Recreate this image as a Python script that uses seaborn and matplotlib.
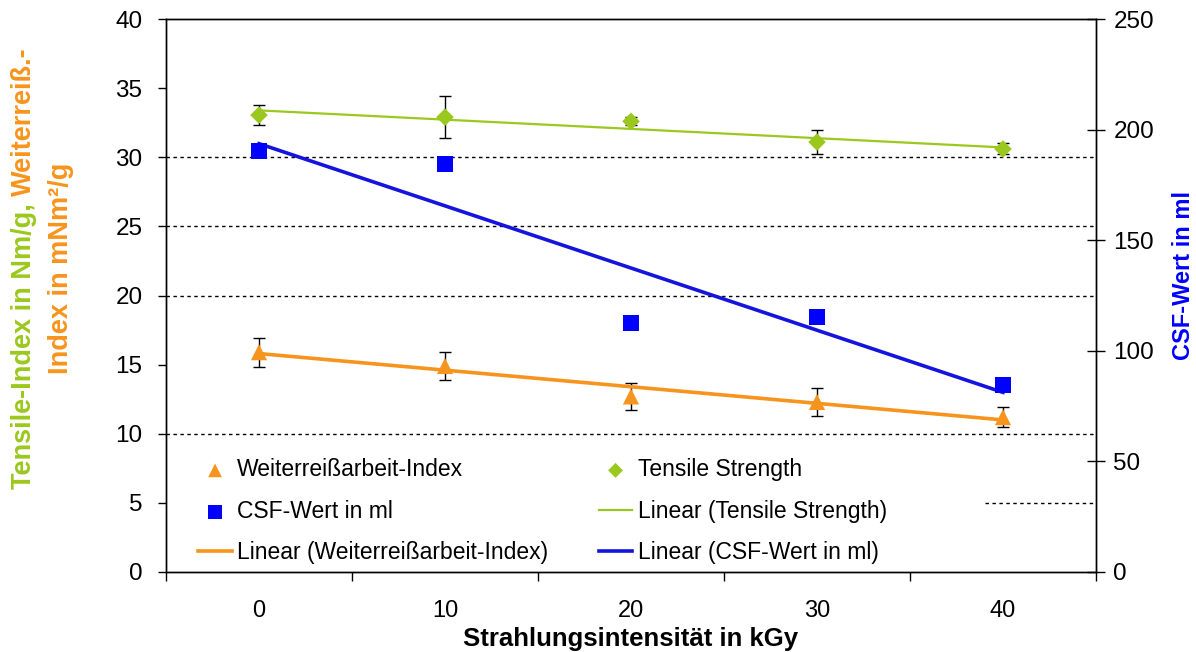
import matplotlib
matplotlib.use("Agg")
import matplotlib.pyplot as plt
import seaborn as sns
import numpy as np

# ---- data ----
dose = [0, 10, 20, 30, 40]
dose_labels = ["0", "10", "20", "30", "40"]
tensile = [33.05, 32.9, 32.6, 31.1, 30.6]
tensile_err = [0.75, 1.5, 0.3, 0.9, 0.4]
tear = [15.9, 14.9, 12.7, 12.3, 11.2]
tear_err = [1.05, 1.0, 1.0, 1.0, 0.7]
csf = [190.4, 184.6, 112.4, 115.1, 84.6]
left_ticks = [0, 5, 10, 15, 20, 25, 30, 35, 40]
right_ticks = [0, 50, 100, 150, 200, 250]
grid_levels = [10, 20, 25, 30]

GREEN = "#9BC81E"
ORANGE = "#F7941D"
BLUE = "#0000FF"
BLUE_LINE = "#1414DC"

plt.rcParams["font.family"] = ["Liberation Sans", "DejaVu Sans"]

W, H = 1196, 652
fig = plt.figure(figsize=(W / 100, H / 100), dpi=100)
ax = fig.add_axes([166 / W, 1 - 572 / H, (1096 - 166) / W, (572 - 19) / H])
ax2 = ax.twinx()

# grid lines
for g in grid_levels:
    ax.axhline(g, color="black", lw=1, ls=(0, (2.5, 2.5)), zorder=1)
ax.axhline(5, xmin=(985 - 166) / 930, xmax=1, color="black", lw=1, ls=(0, (2.5, 2.5)), zorder=1)

# error bars
ax.errorbar(dose, tensile, yerr=tensile_err, fmt="none", ecolor="black", elinewidth=1, capsize=4.5, capthick=1, zorder=2)
ax.errorbar(dose, tear, yerr=tear_err, fmt="none", ecolor="black", elinewidth=1, capsize=4.5, capthick=1, zorder=2)

# trend lines
sns.regplot(x=dose, y=tear, scatter=False, ci=None, ax=ax, label="Linear (Weiterreißarbeit-Index)",
            line_kws=dict(color=ORANGE, lw=2.6, zorder=3))
sns.regplot(x=dose, y=tensile, scatter=False, ci=None, ax=ax, label="Linear (Tensile Strength)",
            line_kws=dict(color=GREEN, lw=1.6, zorder=3))
sns.regplot(x=dose, y=csf, scatter=False, ci=None, ax=ax2, label="Linear (CSF-Wert in ml)",
            line_kws=dict(color=BLUE_LINE, lw=2.6, zorder=3))

# markers
sns.scatterplot(x=dose, y=tear, marker="^", s=135, color=ORANGE, edgecolor="none", ax=ax,
                label="Weiterreißarbeit-Index", legend=False, zorder=4)
sns.scatterplot(x=dose, y=tensile, marker="D", s=80, color=GREEN, edgecolor="none", ax=ax,
                label="Tensile Strength", legend=False, zorder=4)
sns.scatterplot(x=dose, y=csf, marker="s", s=135, color=BLUE, edgecolor="none", ax=ax2,
                label="CSF-Wert in ml", legend=False, zorder=4)

# axes limits / ticks
ax.set_xlim(-5, 45)
ax.set_ylim(0, 40)
ax2.set_ylim(0, 250)
ax.set_yticks(left_ticks)
ax2.set_yticks(right_ticks)
ax.set_xticks([-5, 5, 15, 25, 35, 45])
ax.set_xticklabels([""] * 6)
ax.set_xticks(dose, minor=True)
ax.set_xticklabels(dose_labels, minor=True)
ax.tick_params(axis="x", which="major", direction="out", length=6.5, width=1, color="black")
ax.tick_params(axis="x", which="minor", length=0, pad=20, labelsize=17)
ax.tick_params(axis="y", direction="out", length=6, width=1, pad=11, labelsize=17.5)
ax2.tick_params(axis="y", direction="inout", length=13, width=1, pad=6, labelsize=17.5)
ax.set_ylabel("")
ax2.set_ylabel("")
for a in (ax, ax2):
    for s in a.spines.values():
        s.set_color("black")
        s.set_linewidth(1)

ax.set_xlabel("Strahlungsintensität in kGy", fontsize=18.5, fontweight="bold")
ax.xaxis.set_label_coords(0.5, -0.099)

# legend
h1, l1 = ax.get_legend_handles_labels()
h2, l2 = ax2.get_legend_handles_labels()
hd = dict(zip(l1 + l2, h1 + h2))
order = ["Weiterreißarbeit-Index", "CSF-Wert in ml", "Linear (Weiterreißarbeit-Index)",
         "Tensile Strength", "Linear (Tensile Strength)", "Linear (CSF-Wert in ml)"]
leg = ax2.legend([hd[k] for k in order], order, ncol=2, loc="upper left",
                 bbox_to_anchor=(0.025, 0.222), borderaxespad=0, frameon=False,
                 fontsize=16.5, handlelength=1.45, handletextpad=0.25, columnspacing=2.2,
                 labelspacing=0.8, markerscale=0.85)

# axis titles
fig.text(1183 / W, 1 - 275 / H, "CSF-Wert in ml", rotation=90, ha="center", va="center",
         color=BLUE, fontsize=17, fontweight="bold")

fs = 19.5
kw = dict(rotation=90, rotation_mode="anchor", ha="left", va="baseline", fontsize=fs, fontweight="bold")
t1a = fig.text(0, 0, "Tensile-Index in Nm/g,", color=GREEN, **kw)
t1b = fig.text(0, 0, "Weiterreiß.-", color=ORANGE, **kw)
t2 = fig.text(0, 0, "Index in mNm²/g", color=ORANGE, **kw)
fig.canvas.draw()
r = fig.canvas.get_renderer()
la = t1a.get_window_extent(r).height
lb = t1b.get_window_extent(r).height
l2 = t2.get_window_extent(r).height
gap = 0.28 * fs * 100 / 72
yc = H - 268
start1 = yc - (la + gap + lb) / 2
t1a.set_position((31 / W, start1 / H))
t1b.set_position((31 / W, (start1 + la + gap) / H))
t2.set_position((68 / W, (yc - l2 / 2) / H))

fig.savefig("out.png", dpi=100)
